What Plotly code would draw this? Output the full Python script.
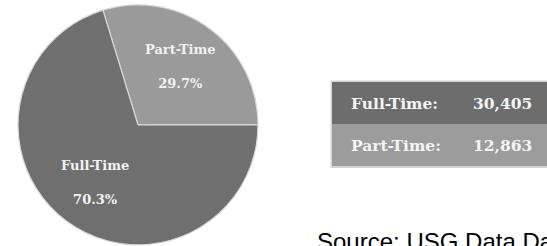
import math
import plotly.graph_objects as go

# ---- data ----
categories = ["Part-Time", "Full-Time"]
enrollment = [12863, 30405]
table_labels = ["Full-Time:", "Part-Time:"]
table_values = [30405, 12863]
source_text = "Source: USG Data Dashboard"

pie_colors = ["#9a9a9a", "#6f6f6f"]
row_colors = ["#6d6d6d", "#9c9c9c"]

W, H = 547, 246
ROT = -17  # start angle of first slice, degrees clockwise from 12 o'clock
fig = go.Figure()

pie_x = [18 / W, 258 / W]
pie_y = [0, 0.985]
fig.add_trace(go.Pie(
    labels=categories,
    values=enrollment,
    sort=False,
    direction="clockwise",
    rotation=ROT,
    marker=dict(colors=pie_colors, line=dict(color="#d9d9d9", width=1.2)),
    textinfo="none",
    domain=dict(x=pie_x, y=pie_y),
    showlegend=False,
    hoverinfo="label+value+percent",
))

annotations = []
# slice labels placed along each slice's bisector (computed from the data)
cx = (pie_x[0] + pie_x[1]) / 2 * W
cy = (1 - (pie_y[0] + pie_y[1]) / 2) * H
R = (pie_x[1] - pie_x[0]) * W / 2
total = sum(enrollment)
start = ROT
for lab, v in zip(categories, enrollment):
    frac = v / total
    mid = math.radians(start + frac * 360 / 2)
    start += frac * 360
    px = cx + 0.6 * R * math.sin(mid)
    py = cy - 0.6 * R * math.cos(mid)
    annotations.append(dict(x=px / W, y=1 - py / H, xref="paper", yref="paper",
                            text=f"{lab}<br><br>{frac:.1%}", showarrow=False,
                            xanchor="center", yanchor="middle", align="center",
                            font=dict(family="DejaVu Serif", size=13, color="#f2f2f2", weight="bold")))

# table (background rows + text)
tx0, tx1 = 332 / W, 1.0
row_top = [82, 124]
row_bot = [124, 166]
shapes = [dict(type="rect", xref="paper", yref="paper",
               x0=tx0 - 1.5 / W, x1=1.0, y0=1 - 168 / H, y1=1 - 80.5 / H,
               fillcolor="#d4d4d4", line=dict(width=0), layer="below")]
for i in range(len(table_labels)):
    shapes.append(dict(type="rect", xref="paper", yref="paper",
                       x0=tx0, x1=tx1, y0=1 - row_bot[i] / H, y1=1 - row_top[i] / H,
                       fillcolor=row_colors[i], line=dict(width=0), layer="below"))
    yc = 1 - (row_top[i] + row_bot[i]) / 2 / H
    annotations.append(dict(x=349 / W, y=yc, xref="paper", yref="paper",
                            text=table_labels[i], showarrow=False,
                            xanchor="left", yanchor="middle",
                            font=dict(family="DejaVu Serif", size=15.5, color="#f4f4f4", weight="bold")))
    annotations.append(dict(x=534 / W, y=yc, xref="paper", yref="paper",
                            text=f"{table_values[i]:,}", showarrow=False,
                            xanchor="right", yanchor="middle",
                            font=dict(family="DejaVu Serif", size=15.5, color="#f4f4f4", weight="bold")))

annotations.append(dict(x=315 / W, y=1 - 226 / H, xref="paper", yref="paper",
                        text=source_text, showarrow=False,
                        xanchor="left", yanchor="top",
                        font=dict(family="Liberation Sans, Arial", size=24, color="#000000")))

fig.update_layout(
    width=W, height=H,
    margin=dict(l=0, r=0, t=0, b=0),
    paper_bgcolor="white", plot_bgcolor="white",
    shapes=shapes, annotations=annotations,
)

fig.write_html("out.html", config={"displayModeBar": False},
               post_script="document.body.style.margin='0';")
